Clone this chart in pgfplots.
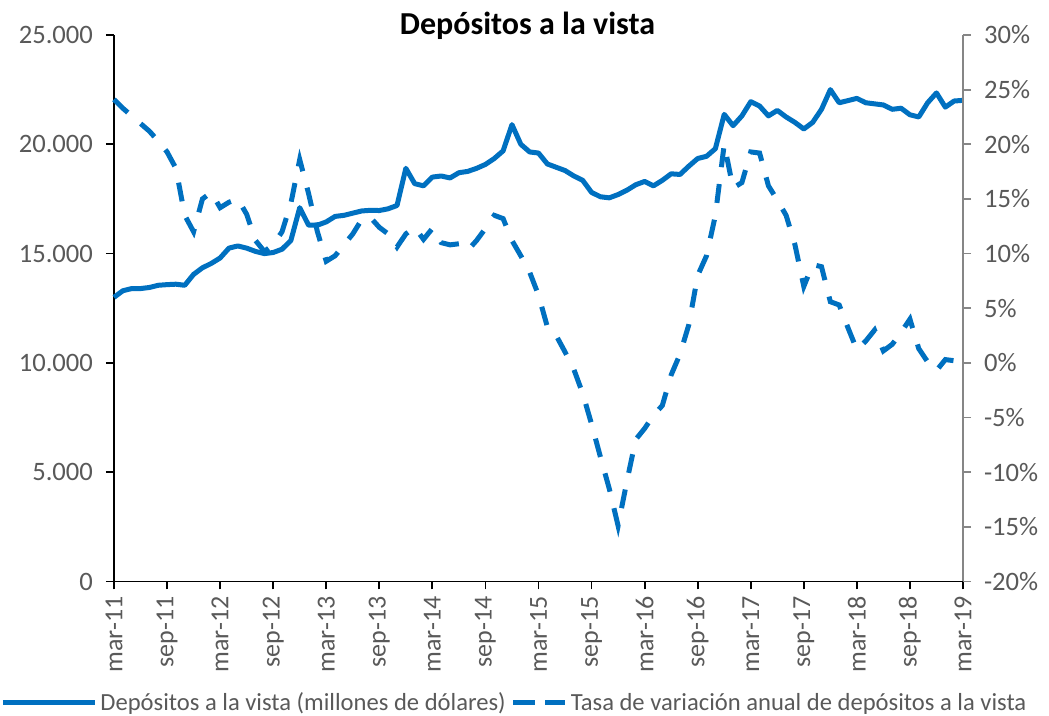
\documentclass[border=0pt]{standalone}
\usepackage{pgfplots}
\pgfplotsset{compat=1.18}
\usepackage{fontspec}
\setmainfont{Carlito}
\definecolor{lblue}{RGB}{0,112,192}
\definecolor{tgray}{RGB}{89,89,89}
\definecolor{agray}{RGB}{134,134,134}
\pgfplotsset{
  legsolid/.style={legend image code/.code={\draw[##1] (0pt,0pt) -- (46pt,0pt);}},
  legdash/.style={legend image code/.code={\draw[##1,dash pattern=on 11pt off 5pt] (0pt,0pt) -- (26pt,0pt);}},
}
\pgfplotstableread{
i dep
0 13000
1 13300
2 13400
3 13400
4 13450
5 13550
6 13580
7 13600
8 13550
9 14050
10 14350
11 14550
12 14800
13 15250
14 15350
15 15250
16 15100
17 15000
18 15050
19 15200
20 15600
21 17100
22 16300
23 16300
24 16450
25 16700
26 16750
27 16850
28 16950
29 16980
30 16970
31 17050
32 17200
33 18900
34 18200
35 18100
36 18500
37 18550
38 18460
39 18700
40 18760
41 18900
42 19080
43 19350
44 19700
45 20900
46 20000
47 19650
48 19600
49 19100
50 18950
51 18800
52 18550
53 18350
54 17800
55 17600
56 17550
57 17700
58 17900
59 18150
60 18300
61 18100
62 18350
63 18650
64 18620
65 19000
66 19350
67 19450
68 19800
69 21370
70 20850
71 21300
72 21950
73 21750
74 21300
75 21550
76 21250
77 21000
78 20700
79 21000
80 21600
81 22500
82 21900
83 22000
84 22100
85 21900
86 21850
87 21800
88 21600
89 21650
90 21350
91 21250
92 21900
93 22350
94 21700
95 21980
96 22010
}\deptable
\pgfplotstableread{
i rate
0 24.1
1 23.3
2 22.6
3 21.9
4 21.2
5 20.3
6 19.3
7 17.8
8 13.5
9 12.0
10 15.0
11 15.6
12 14.2
13 14.7
14 15.0
15 13.6
16 11.2
17 10.2
18 10.8
19 12.0
20 14.6
21 18.6
22 15.5
23 12.0
24 9.3
25 9.8
26 10.8
27 11.8
28 13.1
29 13.3
30 12.4
31 11.8
32 10.6
33 11.8
34 12.4
35 11.3
36 12.3
37 11.0
38 10.8
39 10.9
40 10.3
41 11.2
42 12.3
43 13.5
44 13.2
45 11.2
46 9.8
47 8.3
48 6.2
49 3.3
50 2.5
51 1.0
52 -0.6
53 -2.8
54 -5.6
55 -8.6
56 -11.5
57 -14.9
58 -10.8
59 -7.0
60 -6.0
61 -4.8
62 -3.9
63 -1.1
64 0.8
65 3.5
66 8.0
67 9.8
68 13.5
69 20.0
70 16.0
71 16.5
72 19.3
73 19.2
74 16.2
75 14.9
76 13.5
77 10.8
78 7.0
79 9.0
80 8.8
81 5.6
82 5.3
83 3.2
84 1.2
85 2.0
86 3.0
87 1.1
88 1.7
89 2.8
90 4.0
91 1.3
92 0.1
93 -0.7
94 0.3
95 0.2
96 -0.7
}\ratetable
\begin{document}
\begin{tikzpicture}
\useasboundingbox (-57pt,-67.25pt) rectangle (467.5pt,290.75pt);
\begin{axis}[
  at={(0pt,0pt)}, anchor=south west,
  scale only axis, width=424.5pt, height=273.25pt,
  xmin=0, xmax=96, ymin=0, ymax=25000,
  clip=false,
  axis y line*=left, axis x line*=bottom,
  axis line style={-, black, line width=0.9pt},
  tick align=outside, major tick length=4pt,
  tick style={black, line width=0.9pt},
  xtick={0,6,...,96},
  xticklabels={mar-11,sep-11,mar-12,sep-12,mar-13,sep-13,mar-14,sep-14,mar-15,sep-15,mar-16,sep-16,mar-17,sep-17,mar-18,sep-18,mar-19},
  xticklabel style={rotate=90, anchor=east, font=\fontsize{13}{15}\selectfont, text=tgray},
  ytick={0,5000,...,25000},
  yticklabel style={font=\fontsize{13.3}{15}\selectfont, text=tgray, xshift=-3pt},
  scaled y ticks=false,
  /pgf/number format/.cd, 1000 sep={.}, assume math mode=true,
  /pgfplots/.cd,
  title={Depósitos a la vista},
  title style={at={(0.487,1)}, anchor=base, yshift=-6pt, font=\bfseries\fontsize{16}{19}\selectfont, text=black},
]
\addplot[lblue, line width=2.5pt, line join=round] table[x=i, y=dep] {\deptable};
\end{axis}
\begin{axis}[
  at={(0pt,0pt)}, anchor=south west,
  scale only axis, width=424.5pt, height=273.25pt,
  xmin=0, xmax=96, ymin=-20, ymax=30,
  clip=false,
  axis y line*=right, axis x line=none,
  axis line style={-, agray, line width=0.9pt},
  tick align=outside, major tick length=4pt,
  tick style={agray, line width=0.9pt},
  ytick={-20,-15,...,30},
  yticklabel={\pgfmathprintnumber{\tick}\%},
  yticklabel style={font=\fontsize{13.3}{15}\selectfont, text=tgray, xshift=3pt},
  /pgf/number format/.cd, assume math mode=true,
  /pgfplots/.cd,
  legend columns=2,
  legend style={at={(-0.1343,-0.2223)}, anchor=west, draw=none, fill=none,
    inner sep=0pt, font=\fontsize{12.3}{14}\selectfont, text=tgray,
    /tikz/every even column/.append style={column sep=1pt},
    nodes={inner sep=1.5pt}},
]
\addlegendimage{legsolid, lblue, line width=2.5pt}
\addlegendentry{Depósitos a la vista (millones de dólares)}
\addplot[legdash, lblue, line width=2.5pt, dash pattern=on 9.5pt off 8.5pt] table[x=i, y=rate] {\ratetable};
\addlegendentry{Tasa de variación anual de depósitos a la vista}
\end{axis}
\end{tikzpicture}
\end{document}
